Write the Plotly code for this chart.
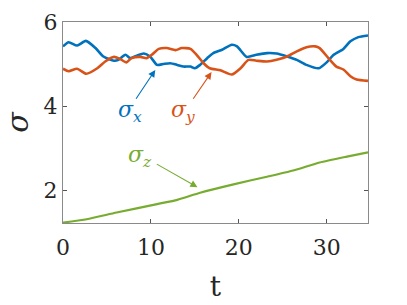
import plotly.graph_objects as go

# sigma_x (blue)
tx = [0, 0.64, 1.6, 2.6, 3.7, 4.6, 5.8, 6.3, 7.1, 7.65, 8.4, 9.2, 9.9, 10.7, 11.4, 12.2, 13.0, 13.7, 14.5,
      15.0, 15.6, 16.4, 17.1, 18.1, 19.2, 19.8, 20.9, 22.0, 23.2, 24.3, 25.5, 26.6, 27.7, 29.1, 30.0, 30.8,
      31.9, 32.7, 33.6, 34.7]
sx = [5.42, 5.52, 5.44, 5.55, 5.38, 5.18, 5.08, 5.10, 5.22, 5.14, 5.20, 5.25, 5.18, 4.98, 5.00, 5.02, 4.98,
      4.94, 4.94, 4.90, 4.98, 5.14, 5.26, 5.34, 5.46, 5.42, 5.17, 5.22, 5.26, 5.25, 5.18, 5.10, 4.98, 4.90,
      5.04, 5.22, 5.36, 5.54, 5.64, 5.68]

# sigma_y (orange)
ty = [0, 0.64, 1.6, 2.65, 3.9, 4.8, 5.8, 6.5, 7.2, 7.8, 8.8, 9.5, 10.1, 10.9, 11.8, 12.8, 13.5, 14.5, 15.2,
      16.0, 16.7, 17.9, 19.2, 20.2, 21.1, 22.0, 23.2, 24.3, 25.5, 26.6, 27.7, 28.7, 29.2, 30.2, 31.1, 31.9,
      32.7, 33.4, 34.7]
sy = [4.89, 4.83, 4.89, 4.77, 4.90, 5.06, 5.17, 5.12, 5.04, 5.14, 5.17, 5.14, 5.22, 5.36, 5.38, 5.33, 5.38,
      5.36, 5.22, 5.02, 4.90, 4.85, 4.75, 4.90, 5.10, 5.08, 5.06, 5.10, 5.18, 5.30, 5.40, 5.42, 5.38, 5.14,
      4.94, 4.87, 4.71, 4.63, 4.60]

# sigma_z (green)
tz = [0, 2.7, 6.1, 10.7, 13.0, 15.6, 19.4, 23.2, 26.2, 29.2, 32.3, 34.7]
sz = [1.23, 1.31, 1.47, 1.67, 1.77, 1.94, 2.14, 2.32, 2.47, 2.66, 2.80, 2.90]

x_ticks = [0, 10, 20, 30]
y_ticks = [2, 4, 6]

BLUE = "#0072BD"
ORANGE = "#D95319"
GREEN = "#77AC30"
SERIF = "DejaVu Serif"

fig = go.Figure()
fig.add_trace(go.Scatter(x=tx, y=sx, mode="lines", line=dict(color=BLUE, width=2.6, shape="spline", smoothing=0.6)))
fig.add_trace(go.Scatter(x=ty, y=sy, mode="lines", line=dict(color=ORANGE, width=2.6, shape="spline", smoothing=0.6)))
fig.add_trace(go.Scatter(x=tz, y=sz, mode="lines", line=dict(color=GREEN, width=2.2, shape="spline", smoothing=0.6)))

def arrow(x, y, ax, ay, color):
    fig.add_annotation(x=x, y=y, ax=ax, ay=ay, xref="x", yref="y", axref="x", ayref="y",
                       text="", showarrow=True, arrowhead=2, arrowsize=1.3, arrowwidth=1.1,
                       arrowcolor=color, standoff=0, startstandoff=0)

def label(x, y, sub, color):
    fig.add_annotation(x=x, y=y, xref="x", yref="y", showarrow=False,
                       text="<i>σ</i><sub><i>%s</i></sub>" % sub,
                       font=dict(family=SERIF, size=22, color=color))

arrow(10.5, 4.86, 8.2, 4.14, BLUE)
arrow(16.9, 4.81, 14.7, 4.14, ORANGE)
arrow(15.3, 2.07, 10.5, 2.64, GREEN)
label(7.6, 3.87, "x", BLUE)
label(13.7, 3.87, "y", ORANGE)
label(8.8, 2.8, "z", GREEN)

axis_common = dict(showgrid=False, zeroline=False, showline=True, linecolor="#8a8a8a", linewidth=1,
                   mirror="ticks", ticks="inside", ticklen=4, tickcolor="#555", automargin=False,
                   tickfont=dict(family=SERIF, size=22, color="#262626"))

fig.update_xaxes(range=[0, 34.7], tickvals=x_ticks, ticktext=[str(v) for v in x_ticks],
                 ticklabelstandoff=5,
                 title=dict(text="t", font=dict(family=SERIF, size=28, color="#262626"), standoff=16),
                 **axis_common)
fig.update_yaxes(range=[1.22, 6], tickvals=y_ticks, ticktext=[str(v) for v in y_ticks],
                 title=dict(text="<i>σ</i>", font=dict(family=SERIF, size=30, color="#262626"), standoff=6),
                 **axis_common)

fig.update_layout(width=407, height=305, margin=dict(l=63, r=39, t=22, b=82),
                  font=dict(family=SERIF),
                  plot_bgcolor="white", paper_bgcolor="white", showlegend=False)

fig.write_html("out.html", config={"displayModeBar": False},
               post_script="document.body.style.margin='0';")
